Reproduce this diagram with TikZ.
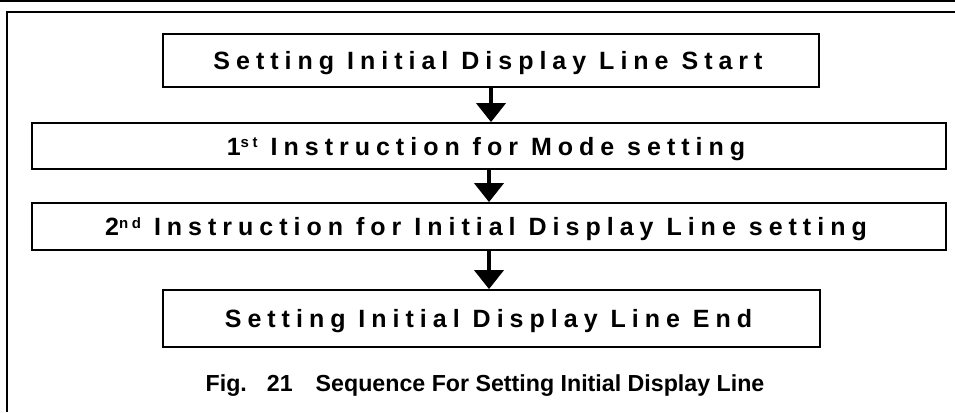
\documentclass[tikz,border=0pt]{standalone}
\usepackage{fontspec}
\setmainfont{Liberation Sans}
\newfontfamily\boxfont[LetterSpace=24]{Liberation Sans}
\usetikzlibrary{arrows.meta}
\tikzset{
  stepbox/.style={draw, line width=1.8pt, inner sep=0pt,
    font=\boxfont\bfseries\fontsize{25}{30}\selectfont,
    text height=18pt, text depth=0pt},
  conn/.style={line width=4pt, -{Triangle[width=29pt,length=19pt]}},
  frameline/.style={line width=1.5pt}
}
\newcommand{\supx}[1]{{\fontsize{15}{15}\selectfont\raisebox{7.5pt}{#1}}}
\newcommand{\trail}{\hspace*{6pt}}
\begin{document}
\begin{tikzpicture}[x=1pt,y=-1pt]
\useasboundingbox (0,0) rectangle (955,412);
\coordinate (tl) at (0,1);
\coordinate (tr) at (955,1);
\coordinate (fb) at (7,412);
\coordinate (fc) at (7,12);
\coordinate (fr) at (955,12);
\draw[frameline] (tl) -- (tr);
\draw[frameline] (fb) -- (fc) -- (fr);
\node[stepbox, minimum width=656pt, minimum height=53pt] (b1) at (491,60.5) {Setting Initial Display Line Start\trail};
\node[stepbox, minimum width=914pt, minimum height=46pt] (b2) at (489,146) {1\supx{st} Instruction for Mode setting\trail};
\node[stepbox, minimum width=914pt, minimum height=47pt] (b3) at (489,226.5) {2\supx{nd} Instruction for Initial Display Line setting\trail};
\node[stepbox, minimum width=657pt, minimum height=57pt] (b4) at (491.5,318.5) {Setting Initial Display Line End\trail};
\draw[conn] (b1.south) -- (b1.south |- b2.north);
\draw[conn] (b2.south) -- (b2.south |- b3.north);
\draw[conn] (b3.south) -- (b3.south |- b4.north);
\node[anchor=base, font=\bfseries\fontsize{23.2}{28}\selectfont] (cap) at (485,391) {Fig.\hspace{20pt}21\hspace{23pt}Sequence For Setting Initial Display Line};
\end{tikzpicture}
\end{document}
